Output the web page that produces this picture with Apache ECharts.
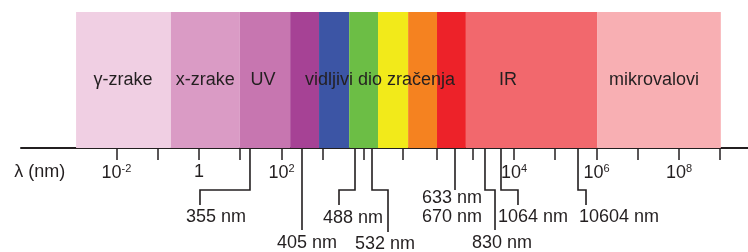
<!DOCTYPE html>
<html><head><meta charset="utf-8">
<script src="https://cdn.jsdelivr.net/npm/echarts@6/dist/echarts.min.js"></script>
<style>html,body{margin:0;padding:0;background:#fff}#c{width:748px;height:252px}</style>
</head><body><div id="c"></div>
<script>
// Schematic axis position: 1 unit = one tick step (one decade outside the visible band)
const bandNames = ['γ', 'x', 'UV', 'ljubičasta', 'plava', 'zelena', 'žuta', 'narančasta', 'crvena', 'IR', 'mikrovalovi'];
const bandStart = [-2.98, -0.68, 0.99, 2.21, 2.91, 3.64, 4.34, 5.07, 5.77, 6.47, 9.65];
const bandEnd   = [-0.68, 0.99, 2.21, 2.91, 3.64, 4.34, 5.07, 5.77, 6.47, 9.65, 12.65];
const bandColors = ['#F0CFE3', '#DA9BC5', '#C776B0', '#A64295', '#3C55A5', '#6CBE45', '#F2EA1A', '#F58220', '#ED2229', '#F2686D', '#F8AFB3'];
const bandTop = 136;

const bandLabelNames = ['γ-zrake', 'x-zrake', 'UV', 'vidljivi dio zračenja', 'IR', 'mikrovalovi'];
const bandLabelPos = [-1.84, 0.15, 1.55, 4.39, 7.49, 11.03];
const bandLabelLevel = 68;

const tickValues = [-2, -1, 0, 1, 2, 3, 4, 4.945, 5.77, 6.642, 7.636, 8.636, 9.636, 10.636, 11.636, 12.636];
const tickLabelValues = [-2, 0, 2, 7.636, 9.636, 11.636];
const tickLabelBase = ['10', '1', '10', '10', '10', '10'];
const tickLabelExp = ['-2', '', '2', '4', '6', '8'];

const axisTitle = 'λ (nm)';
const axisTitlePos = -3.86;
const axisTitleLevel = -24;

const calloutNames = ['355 nm', '405 nm', '488 nm', '532 nm', '633 nm', '670 nm', '830 nm', '1064 nm', '10604 nm'];
const calloutAxisPos = [1.236, 2.497, 3.782, 4.194, 6.206, null, 6.933, 7.321, 9.188];
const calloutJogPos  = [0.024, 2.497, 3.394, 4.582, 6.206, null, 7.176, 7.733, 9.382];
const calloutEndLevel = [-57, -82, -57, -84, -42, null, -82, -57, -57];
const calloutLabelPos = [0.412, 2.618, 3.733, 4.509, 6.133, 6.133, 7.345, 8.097, 10.182];
const calloutLabelLevel = [-69, -95, -70, -96, -50, -69, -95, -69, -69];
const jogLevel = -42;

const FONT = '"Liberation Sans", Arial, Helvetica, sans-serif';
const INK = '#231F20';

const chart = echarts.init(document.getElementById('c'), null, {renderer: 'canvas'});

const bandData = bandStart.map((s, i) => [s, bandEnd[i], i]);
const calloutData = calloutNames.map((n, i) => [i]);
const textData = bandLabelNames.map((n, i) => [bandLabelPos[i], bandLabelLevel, n]).concat([[axisTitlePos, axisTitleLevel, axisTitle]]);

chart.setOption({
  animation: false,
  backgroundColor: '#fff',
  grid: {left: 21, right: 0, top: 12, bottom: 104, containLabel: false, outerBoundsMode: 'none'},
  xAxis: {
    type: 'value',
    min: -4.315, max: 13.309,
    axisLine: {onZero: false, lineStyle: {color: INK, width: 2}},
    splitLine: {show: false},
    axisTick: {show: true, length: 12, customValues: tickValues, lineStyle: {color: INK, width: 1.5}},
    axisLabel: {
      show: true, customValues: tickLabelValues, margin: 15,
      formatter: function (v) {
        let idx = tickLabelValues.findIndex(t => Math.abs(t - v) < 1e-6);
        if (idx < 0) return '';
        return tickLabelExp[idx] ? '{b|' + tickLabelBase[idx] + '}{s|' + tickLabelExp[idx] + '}' : '{b|' + tickLabelBase[idx] + '}';
      },
      rich: {
        b: {fontSize: 18, fontFamily: FONT, color: INK},
        s: {fontSize: 11, fontFamily: FONT, color: INK, verticalAlign: 'top', padding: [0, 0, 9, 0]}
      }
    }
  },
  yAxis: {type: 'value', min: 0, max: 136, show: false},
  series: [
    {
      type: 'custom', data: bandData, z: 1,
      renderItem: function (params, api) {
        const p0 = api.coord([api.value(0), bandTop]);
        const p1 = api.coord([api.value(1), 0]);
        return {type: 'rect', shape: {x: p0[0], y: p0[1], width: p1[0] - p0[0], height: p1[1] - p0[1]},
          style: {fill: bandColors[api.value(2)]}};
      }
    },
    {
      type: 'custom', data: textData, z: 5, clip: false,
      renderItem: function (params, api) {
        const p = api.coord([api.value(0), api.value(1)]);
        return {type: 'text', x: p[0], y: p[1],
          style: {text: textData[params.dataIndex][2], fontSize: 18, fontFamily: FONT, fill: INK, align: 'center', verticalAlign: 'middle'}};
      }
    },
    {
      type: 'custom', data: calloutData, z: 5, clip: false,
      renderItem: function (params, api) {
        const i = params.dataIndex;
        const children = [];
        if (calloutAxisPos[i] !== null) {
          const pts = [
            api.coord([calloutAxisPos[i], 0]),
            api.coord([calloutAxisPos[i], jogLevel]),
            api.coord([calloutJogPos[i], jogLevel]),
            api.coord([calloutJogPos[i], calloutEndLevel[i]])
          ];
          children.push({type: 'polyline', shape: {points: pts}, style: {stroke: INK, lineWidth: 1.6, fill: null}});
        }
        const lp = api.coord([calloutLabelPos[i], calloutLabelLevel[i]]);
        children.push({type: 'text', x: lp[0], y: lp[1],
          style: {text: calloutNames[i], fontSize: 18, fontFamily: FONT, fill: INK, align: 'center', verticalAlign: 'middle'}});
        return {type: 'group', children: children};
      }
    }
  ]
});
</script></body></html>
